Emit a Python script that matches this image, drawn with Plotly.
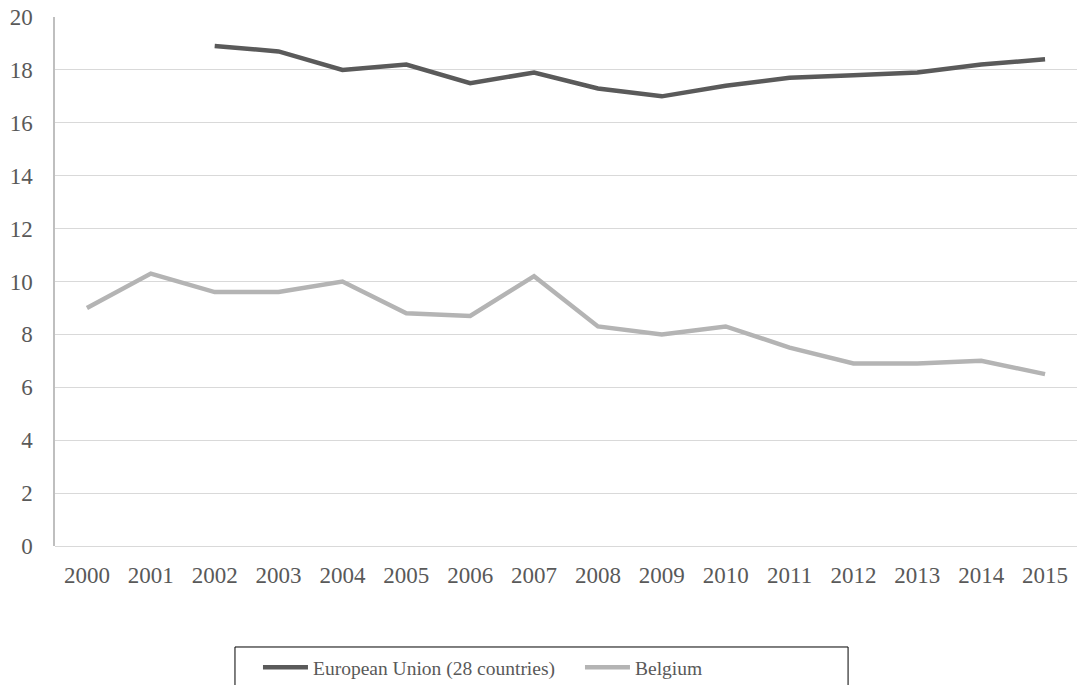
import plotly.graph_objects as go

years = [str(y) for y in range(2000, 2016)]
eu28 = [None, None, 18.9, 18.7, 18.0, 18.2, 17.5, 17.9, 17.3, 17.0, 17.4, 17.7, 17.8, 17.9, 18.2, 18.4]
belgium = [9.0, 10.3, 9.6, 9.6, 10.0, 8.8, 8.7, 10.2, 8.3, 8.0, 8.3, 7.5, 6.9, 6.9, 7.0, 6.5]

font_family = "Liberation Serif, Times New Roman, serif"
text_color = "#595959"

fig = go.Figure()
fig.add_trace(go.Scatter(
    x=years, y=eu28, mode="lines", name="European Union (28 countries)",
    line=dict(color="#5a5a5a", width=4.5), connectgaps=False,
))
fig.add_trace(go.Scatter(
    x=years, y=belgium, mode="lines", name="Belgium",
    line=dict(color="#b4b4b4", width=4.5),
))

# Framed box around the legend entries
fig.add_shape(
    type="rect", xref="paper", yref="paper",
    x0=0.1761, x1=0.776, y0=-0.1909, y1=-0.30,
    line=dict(color="black", width=1), fillcolor="rgba(0,0,0,0)", layer="above",
)

fig.update_layout(
    width=1083, height=685,
    margin=dict(l=55, r=6, t=17, b=139, autoexpand=False),
    paper_bgcolor="white", plot_bgcolor="white",
    font=dict(family=font_family, size=23, color=text_color),
    showlegend=True,
    legend=dict(
        orientation="h", xref="container", yref="container",
        x=0.2382, xanchor="left", y=0.054, yanchor="top",
        borderwidth=0, bgcolor="rgba(0,0,0,0)",
        font=dict(family=font_family, size=19.5, color=text_color),
        entrywidth=262, itemwidth=45,
    ),
)
fig.update_xaxes(
    type="category", range=[-0.5, 15.5],
    showgrid=False, showline=False, zeroline=False,
    ticks="", ticklabelstandoff=13,
    tickfont=dict(family=font_family, size=23, color=text_color),
)
fig.update_yaxes(
    range=[0, 20], dtick=2, tick0=0,
    showgrid=True, gridcolor="#d9d9d9", gridwidth=1.3,
    zeroline=True, zerolinecolor="#d9d9d9", zerolinewidth=1.3,
    showline=True, linecolor="#bfbfbf", linewidth=1.5,
    ticks="", ticklabelstandoff=16,
    tickfont=dict(family=font_family, size=23, color=text_color),
)

fig.write_html("out.html")
